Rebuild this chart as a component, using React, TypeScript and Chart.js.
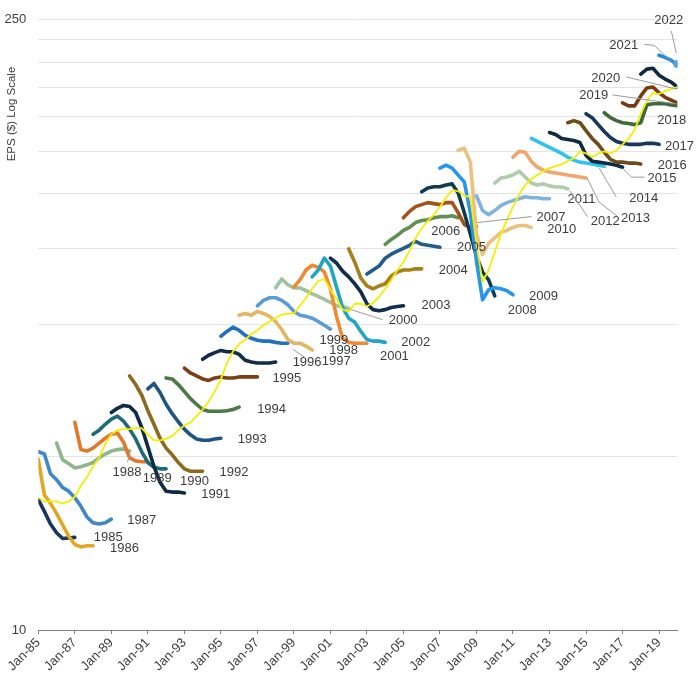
import React, { useEffect, useRef } from 'react';
import { Chart, registerables } from 'chart.js';

Chart.register(...registerables);

// ---------- DATA ----------
const STEP_MONTHS = 4; // spacing of readings, months since Jan-85
const xTickMonths = [0, 24, 48, 72, 96, 120, 144, 168, 192, 216, 240, 264, 288, 312, 336, 360, 384, 408];
const yTickValues = [10, 25, 50, 75, 100, 125, 150, 175, 200, 225, 250];
const yLabelledTicks = [10, 250];

const years = [1985, 1986, 1987, 1988, 1989, 1990, 1991, 1992, 1993, 1994, 1995, 1996, 1997, 1998, 1999, 2000, 2001, 2002, 2003, 2004, 2005, 2006, 2007, 2008, 2009, 2010, 2011, 2012, 2013, 2014, 2015, 2016, 2017, 2018, 2019, 2020, 2021, 2022];
const startMonths = [0, 0, 0, 12, 24, 36, 48, 60, 72, 84, 96, 108, 120, 132, 144, 156, 168, 180, 192, 204, 216, 228, 240, 252, 264, 276, 288, 300, 312, 324, 336, 348, 360, 372, 384, 396, 408, 420];

const eps1985 = [19.9, 18.7, 17.5, 16.7, 16.2, 16.25, 16.3];
const eps1986 = [24.6, 20.4, 19.5, 18.5, 17.4, 16.4, 15.7, 15.5, 15.6, 15.6];
const eps1987 = [25.6, 25.3, 22.8, 22.1, 21.2, 20.8, 20.1, 19.2, 18.15, 17.6, 17.5, 17.6, 17.95];
const eps1988 = [26.8, 24.55, 24.05, 23.5, 23.65, 23.9, 24.2, 24.8, 25.3, 25.7, 25.9, 26.0, 25.7];
const eps1989 = [29.9, 25.9, 25.7, 26.1, 26.8, 27.5, 28.1, 28.25, 26.96, 24.8, 24.4, 24.3, 24.3];
const eps1990 = [28.1, 28.7, 29.6, 30.4, 30.9, 30.1, 28.85, 27.4, 25.6, 24.2, 23.6, 23.4, 23.4];
const eps1991 = [31.5, 32.2, 32.7, 32.5, 31.5, 29.1, 26.3, 23.7, 21.8, 20.8, 20.7, 20.7, 20.6];
const eps1992 = [38.2, 36.5, 34.5, 31.8, 29.6, 27.5, 26.1, 25.2, 24.2, 23.4, 23.1, 23.1, 23.1];
const eps1993 = [35.7, 36.7, 35.0, 32.9, 31.3, 30.0, 28.85, 28.0, 27.4, 27.2, 27.2, 27.4, 27.5];
const eps1994 = [37.8, 37.6, 36.5, 35.2, 33.9, 32.9, 32.0, 31.7, 31.7, 31.7, 31.8, 32.0, 32.4];
const eps1995 = [39.8, 38.8, 38.2, 37.6, 37.3, 37.8, 38.0, 37.8, 37.8, 38.0, 38.0, 38.0, 38.0];
const eps1996 = [41.7, 42.6, 43.2, 43.7, 43.4, 43.4, 42.8, 41.5, 41.1, 40.9, 40.9, 40.9, 41.1];
const eps1997 = [47.1, 48.3, 49.4, 48.6, 47.3, 46.6, 46.1, 45.9, 45.9, 45.6, 45.4, 45.4];
const eps1998 = [52.6, 53.1, 52.6, 53.7, 53.1, 52.3, 50.9, 48.8, 46.3, 45.4, 45.4, 44.7, 43.8];
const eps1999 = [55.3, 56.9, 57.7, 57.7, 56.9, 55.6, 53.7, 52.6, 52.3, 51.8, 50.9, 49.9, 48.9];
const eps2000 = [60.8, 63.7, 61.8, 60.8, 60.8, 59.9, 58.9, 58.1, 57.2, 56.3, 55.3, 55.1, 54.5];
const eps2001 = [61.1, 63.4, 66.8, 68.5, 67.8, 66.1, 60.5, 52.3, 46.6, 45.6, 45.4, 45.4, 45.4];
const eps2002 = [64.4, 66.8, 71.1, 68.2, 61.1, 54.8, 51.8, 50.7, 48.3, 46.3, 45.9, 45.9, 45.6];
const eps2003 = [71.1, 69.3, 66.4, 64.4, 62.1, 59.5, 55.9, 54.2, 53.9, 54.2, 54.8, 55.1, 55.3];
const eps2004 = [74.7, 69.6, 64.0, 61.4, 60.5, 61.4, 62.1, 64.7, 66.1, 66.8, 66.8, 67.2, 67.2];
const eps2005 = [65.4, 66.8, 68.2, 71.1, 72.6, 73.8, 74.9, 76.1, 77.7, 76.5, 76.1, 75.7, 75.3];
const eps2006 = [76.5, 78.5, 80.2, 82.3, 83.6, 85.8, 86.7, 87.1, 88.0, 88.5, 88.5, 88.9, 88.0];
const eps2007 = [88.0, 91.0, 93.3, 94.3, 95.3, 94.8, 94.3, 95.3, 95.3, 90.3, 84.9, 83.6, 84.0];
const eps2008 = [100.9, 103.0, 103.6, 103.6, 104.6, 105.2, 100.3, 90.3, 80.6, 71.9, 66.1, 63.4, 58.3];
const eps2009 = [114.3, 116.1, 114.3, 110.2, 106.3, 90.3, 70.0, 57.1, 60.2, 60.8, 60.5, 59.9, 58.6];
const eps2010 = [125.6, 127.0, 118.0, 80.6, 72.6, 76.9, 79.1, 81.5, 82.3, 83.6, 84.5, 84.5, 83.6];
const eps2011 = [98.8, 91.4, 89.4, 91.4, 93.8, 95.3, 96.3, 97.3, 98.3, 97.8, 97.8, 97.3, 97.3];
const eps2012 = [105.7, 108.5, 109.1, 110.2, 112.5, 109.1, 105.7, 104.6, 105.2, 104.1, 103.5, 103.5, 102.5];
const eps2013 = [121.1, 124.9, 124.3, 118.6, 114.9, 113.1, 112.0, 111.4, 110.8, 110.2, 109.7, 109.1, 108.5];
const eps2014 = [133.7, 131.6, 129.6, 127.6, 125.6, 123.6, 121.1, 119.2, 118.0, 117.4, 116.8, 116.1, 115.5];
const eps2015 = [137.9, 136.5, 133.7, 133.0, 132.3, 130.9, 122.3, 118.6, 118.0, 117.4, 116.8, 116.1, 114.9];
const eps2016 = [145.3, 146.9, 145.3, 139.4, 133.7, 129.6, 124.3, 119.8, 118.0, 118.0, 117.4, 117.4, 116.8];
const eps2017 = [152.3, 149.2, 143.8, 138.7, 134.4, 131.6, 130.3, 129.6, 129.6, 129.6, 130.3, 130.3, 129.6];
const eps2018 = [153.1, 149.2, 146.9, 145.3, 144.6, 143.8, 145.3, 159.6, 160.5, 160.5, 160.5, 159.6, 158.8];
const eps2019 = [161.3, 158.8, 158.8, 167.3, 174.5, 175.4, 170.0, 166.1, 163.6, 161.3];
const eps2020 = [187.7, 192.7, 193.6, 186.7, 182.9, 180.0, 175.4];
const eps2021 = [207.3, 205.0, 201.9, 196.6];
const eps2022 = [198];

const seriesValues = [eps1985, eps1986, eps1987, eps1988, eps1989, eps1990, eps1991, eps1992, eps1993, eps1994, eps1995, eps1996, eps1997, eps1998, eps1999, eps2000, eps2001, eps2002, eps2003, eps2004, eps2005, eps2006, eps2007, eps2008, eps2009, eps2010, eps2011, eps2012, eps2013, eps2014, eps2015, eps2016, eps2017, eps2018, eps2019, eps2020, eps2021, eps2022];

// trailing (realised) EPS, every 4 months from Jan-85
const trailingEps = [
  20.1, 19.7, 19.7, 19.7, 19.5, 19.7, 20.2, 21.4, 22.4, 23.7,
  24.8, 26.7, 28.1, 28.7, 28.85, 28.85, 29.0, 29.0, 28.0, 27.2,
  27.2, 27.4, 27.8, 28.7, 29.4, 29.9, 30.9, 32.0, 33.4, 35.2,
  37.5, 40.9, 43.5, 45.2, 46.3, 47.6, 48.6, 49.9, 50.9, 51.8,
  52.8, 53.1, 53.1, 55.3, 57.7, 60.5, 63.1, 63.7, 60.2, 57.4,
  54.2, 53.7, 55.9, 55.9, 55.1, 56.2, 58.0, 60.5, 63.4, 66.8,
  69.6, 73.8, 79.1, 83.2, 86.6, 89.4, 93.3, 97.8, 101.8, 101.3,
  98.8, 98.3, 76.5, 62.7, 66.8, 73.4, 80.6, 87.0, 93.3, 99.3,
  104.6, 107.9, 110.2, 112.5, 114.3, 115.5, 116.7, 118.6, 120.4, 124.9,
  123.6, 121.1, 123.6, 124.9, 123.6, 125.6, 129.6, 133.7, 140.0, 152.3,
  163.0, 169.9, 169.0, 171.7, 173.5, 175.4,
];

// ---------- STYLE ----------
const seriesColors = [
  '#17375e', '#e0a624', '#3f87c7', '#8fb58b', '#e1782a', '#1e6b78', '#0e2a44', '#8d6a1e', '#1f5384', '#4c7a45',
  '#7c3e15', '#102c46', '#2270c0', '#e4b563', '#5d9bd3', '#a0c29c', '#ee8a35', '#20a5c5', '#102d4b', '#a88019',
  '#235b8a', '#5f8f52', '#a55218', '#0e3c4e', '#2596f0', '#eac27e', '#80b3e0', '#b0cdab', '#f0a66c', '#30c3ee',
  '#0f2b40', '#6e4c19', '#17375c', '#3e6a39', '#7a3b13', '#10283d', '#1f88e6', '#4aa3ef',
];

// label placement relative to the last point of each series (pixels), optional leader polyline
const labelPlacement: Record<number, { dx: number; dy: number; leader?: number[] }> = {
  1985: { dx: 19, dy: 0 },
  1986: { dx: 17, dy: 3 },
  1987: { dx: 16, dy: 1 },
  1988: { dx: -17, dy: 21, leader: [0, 3, -2, 11] },
  1989: { dx: -5, dy: 17 },
  1990: { dx: 14, dy: 13 },
  1991: { dx: 17, dy: 1 },
  1992: { dx: 17, dy: 1 },
  1993: { dx: 17, dy: 1 },
  1994: { dx: 18, dy: 2 },
  1995: { dx: 15, dy: 1 },
  1996: { dx: 17, dy: 0 },
  1997: { dx: 34, dy: 18, leader: [5, 6, 18, 15] },
  1998: { dx: 17, dy: 0 },
  1999: { dx: -11, dy: 11 },
  2000: { dx: 40, dy: 12, leader: [2, 1, 34, 11] },
  2001: { dx: 13, dy: 13 },
  2002: { dx: 16, dy: 0 },
  2003: { dx: 18, dy: 0 },
  2004: { dx: 17, dy: 2 },
  2005: { dx: 17, dy: 0 },
  2006: { dx: -27, dy: 14 },
  2007: { dx: 60, dy: -9, leader: [1, -4, 55, -10] },
  2008: { dx: 13, dy: 15 },
  2009: { dx: 16, dy: 2 },
  2010: { dx: 16, dy: 2 },
  2011: { dx: 18, dy: 1 },
  2012: { dx: 23, dy: 33, leader: [2, 2, 20, 28] },
  2013: { dx: 35, dy: 40, leader: [1, 0, 13, 24, 31, 38] },
  2014: { dx: 25, dy: 32, leader: [-5, 2, 12, 31] },
  2015: { dx: 25, dy: 11, leader: [0, 1, 9, 10, 22, 10] },
  2016: { dx: 17, dy: 1 },
  2017: { dx: 6, dy: 2 },
  2018: { dx: -20, dy: 15 },
  2019: { dx: -98, dy: -7, leader: [-65, -8, -1, 1] },
  2020: { dx: -86, dy: -9, leader: [-51, -10, -1, 2] },
  2021: { dx: -68, dy: -20, leader: [-33, -21, -23, -20, -1, 1] },
  2022: { dx: -23, dy: -44, leader: [-6, -33, -1, -11] },
};

const FONT = '"Liberation Sans", Arial, Helvetica, sans-serif';
const TEXT_COLOR = '#3d3d3d';

const monthLabel = (m: number) => {
  const yr = (85 + Math.floor(m / 12)) % 100;
  return 'Jan-' + String(yr).padStart(2, '0');
};

const labelsPlugin = {
  id: 'yearLabels',
  afterDatasetsDraw(chart: any) {
    const ctx = chart.ctx as CanvasRenderingContext2D;
    ctx.save();
    ctx.font = `13px ${FONT}`;
    ctx.textBaseline = 'middle';
    ctx.textAlign = 'left';
    years.forEach((yr, k) => {
      const place = labelPlacement[yr];
      if (!place) return;
      const meta = chart.getDatasetMeta(k);
      const pts = meta.data;
      if (!pts || !pts.length) return;
      const p = pts[pts.length - 1];
      const px = Math.min(p.x, chart.chartArea.right);
      const py = p.y;
      if (place.leader) {
        ctx.strokeStyle = '#9b9b9b';
        ctx.lineWidth = 1;
        ctx.beginPath();
        for (let i = 0; i < place.leader.length; i += 2) {
          const lx = px + place.leader[i];
          const ly = py + place.leader[i + 1];
          if (i === 0) ctx.moveTo(lx, ly);
          else ctx.lineTo(lx, ly);
        }
        ctx.stroke();
      }
      ctx.fillStyle = TEXT_COLOR;
      ctx.fillText(String(yr), px + place.dx, py + place.dy);
    });
    // y-axis title
    ctx.translate(11.5, 114);
    ctx.rotate(-Math.PI / 2);
    ctx.textAlign = 'center';
    ctx.font = `11.5px ${FONT}`;
    ctx.fillStyle = TEXT_COLOR;
    ctx.fillText('EPS ($) Log Scale', 0, 0);
    ctx.restore();
  },
};

export default function App() {
  const canvasRef = useRef<HTMLCanvasElement | null>(null);

  useEffect(() => {
    if (!canvasRef.current) return;
    const datasets: any[] = years.map((yr, k) => ({
      label: String(yr),
      data: seriesValues[k].map((v, i) => ({ x: startMonths[k] + i * STEP_MONTHS, y: v })),
      borderColor: seriesColors[k],
      backgroundColor: seriesColors[k],
      borderWidth: 3.6,
      pointRadius: seriesValues[k].length === 1 ? 2.2 : 0,
      pointHoverRadius: 0,
      tension: 0,
      borderCapStyle: 'round',
      borderJoinStyle: 'round',
      order: -yr,
    }));
    datasets.push({
      label: 'Trailing EPS',
      data: trailingEps.map((v, i) => ({ x: i * STEP_MONTHS, y: v })),
      borderColor: '#f4ee00',
      backgroundColor: '#f4ee00',
      borderWidth: 1.8,
      pointRadius: 0,
      tension: 0,
      borderJoinStyle: 'round',
      order: -10000,
    });

    const chart = new Chart(canvasRef.current, {
      type: 'line',
      data: { datasets },
      plugins: [labelsPlugin],
      options: {
        animation: false,
        responsive: true,
        maintainAspectRatio: false,
        parsing: true,
        layout: { padding: { top: 13, right: 22.7, bottom: 0, left: 0 } },
        plugins: { legend: { display: false }, tooltip: { enabled: false } },
        events: [],
        scales: {
          x: {
            type: 'linear',
            min: 0,
            max: 420,
            afterBuildTicks: (scale: any) => {
              scale.ticks = xTickMonths.map((v) => ({ value: v }));
            },
            afterFit: (scale: any) => {
              scale.height = 56;
            },
            ticks: {
              autoSkip: false,
              minRotation: 45,
              maxRotation: 45,
              padding: 1,
              color: TEXT_COLOR,
              font: { family: FONT, size: 13 },
              callback: (v: any) => monthLabel(Number(v)),
            },
            grid: {
              display: true,
              drawOnChartArea: false,
              drawTicks: true,
              tickLength: 4,
              color: '#808080',
            },
            border: { display: true, color: '#808080', width: 1 },
          },
          y: {
            type: 'logarithmic',
            min: 10,
            max: 250,
            afterBuildTicks: (scale: any) => {
              scale.ticks = yTickValues.map((v) => ({ value: v }));
            },
            afterFit: (scale: any) => {
              scale.width = 38.3;
            },
            ticks: {
              autoSkip: false,
              padding: 12,
              color: TEXT_COLOR,
              font: { family: FONT, size: 13 },
              callback: (v: any) => (yLabelledTicks.includes(Number(v)) ? String(v) : ''),
            },
            grid: {
              display: true,
              drawTicks: false,
              color: '#e4e4e4',
              lineWidth: 1,
            },
            border: { display: false },
          },
        },
      } as any,
    });
    return () => chart.destroy();
  }, []);

  return (
    <div style={{ position: 'absolute', left: 0, top: 0, width: 700, height: 686, background: '#fff' }}>
      <canvas ref={canvasRef} />
    </div>
  );
}
